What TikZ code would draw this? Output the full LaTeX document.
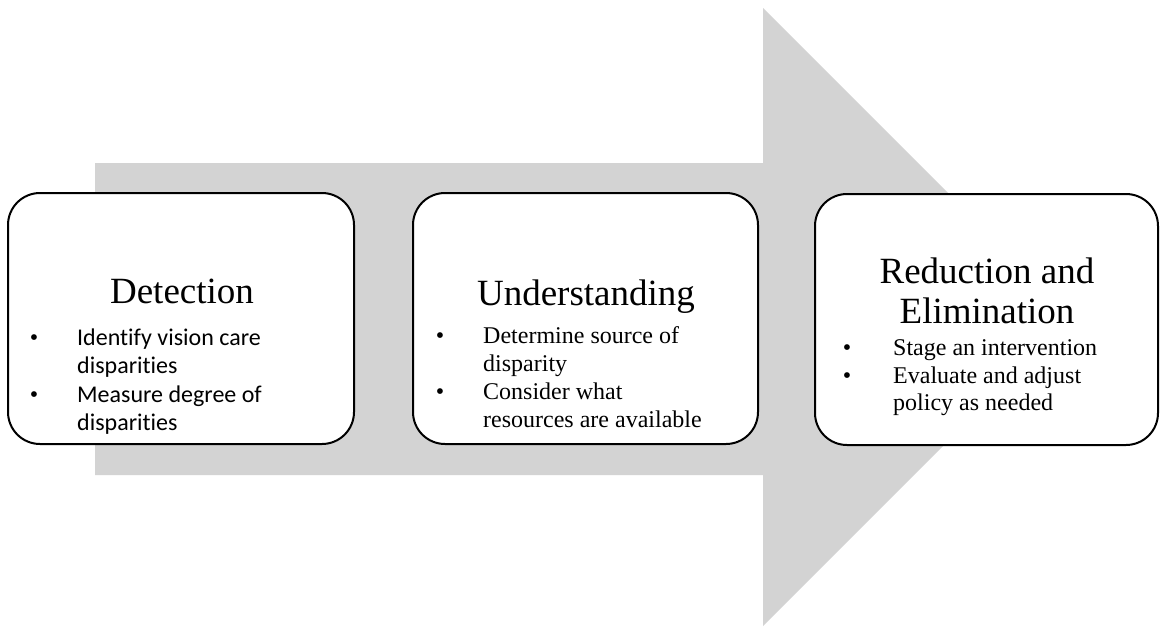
\documentclass[tikz,border=0pt]{standalone}
\usepackage{fontspec}
\setmainfont{Liberation Serif}
\newfontfamily\calib[Ligatures=NoCommon]{Carlito}
\definecolor{arrowgray}{RGB}{211,211,211}
\begin{document}
\begin{tikzpicture}[x=1pt,y=-1pt,
  stage/.style={draw=black, line width=2pt, rounded corners=32pt, fill=white, inner sep=0pt},
  ttl/.style={inner sep=0pt, anchor=base, font=\fontsize{37}{44}\selectfont},
  txt/.style={inner sep=0pt, anchor=base west, font=\fontsize{24}{28}\selectfont},
  ctxt/.style={inner sep=0pt, anchor=base west, font=\calib\fontsize{24}{28}\selectfont},
  bul/.style={inner sep=0pt, anchor=base, font=\fontsize{24}{28}\selectfont}]
\useasboundingbox (0,0) rectangle (1160,627);
% big arrow
\fill[arrowgray] (95,163) -- (763,163) -- (763,8) -- (1072,317) -- (763,626) -- (763,475) -- (95,475) -- cycle;
% boxes
\node[stage, minimum width=346pt, minimum height=251pt] (b1) at (181,318.5) {};
\node[stage, minimum width=345pt, minimum height=251pt] (b2) at (585.5,318.5) {};
\node[stage, minimum width=343pt, minimum height=251pt] (b3) at (986.5,319.5) {};
% box 1
\node[ttl] (t1) at (182,303) {Detection};
\node[bul] (p11) at (34,345) {\textbullet};
\node[ctxt] (l11) at (77,345) {Identify vision care};
\node[ctxt] (l12) at (77,373) {disparities};
\node[bul] (p12) at (34,402) {\textbullet};
\node[ctxt] (l13) at (77,402) {Measure degree of};
\node[ctxt] (l14) at (77,430) {disparities};
% box 2
\node[ttl] (t2) at (586,305) {Understanding};
\node[bul] (p21) at (440,343) {\textbullet};
\node[txt] (l21) at (483,343) {Determine source of};
\node[txt] (l22) at (483,371) {disparity};
\node[bul] (p22) at (440,399) {\textbullet};
\node[txt] (l23) at (483,399) {Consider what};
\node[txt] (l24) at (483,427) {resources are available};
% box 3
\node[ttl] (t3a) at (987,283) {Reduction and};
\node[ttl] (t3b) at (987,323) {Elimination};
\node[bul] (p31) at (847,355) {\textbullet};
\node[txt] (l31) at (893,355) {Stage an intervention};
\node[bul] (p32) at (847,383) {\textbullet};
\node[txt] (l32) at (893,383) {Evaluate and adjust};
\node[txt] (l33) at (893,410) {policy as needed};
\end{tikzpicture}
\end{document}
